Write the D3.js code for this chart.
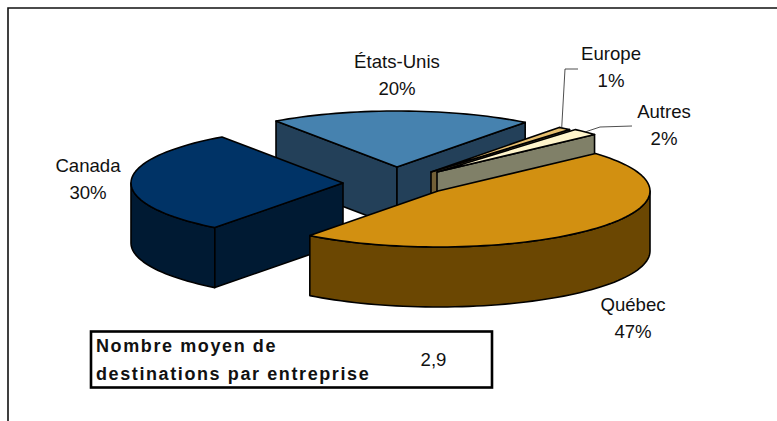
<!DOCTYPE html>
<html><head><meta charset="utf-8">
<script src="https://cdn.jsdelivr.net/npm/d3@7"></script>
<style>html,body{margin:0;background:#fff}svg{display:block}text{font-family:"Liberation Sans",Arial,sans-serif;fill:#111}</style>
</head><body><svg id="c" width="777" height="421"></svg>
<script>
const categories = ["Québec","Canada","États-Unis","Europe","Autres"];
const values = [47,30,20,1,2];
const topColors = ["#D29011","#003366","#4682AF","#E6BE6E","#FFF5CC"];
const sideColors = ["#6B4702","#001A33","#234059","#736037","#808068"];
const apexX = [438,343,397,431,437];
const apexY = [191,183,167,172,172];
const labelX = [633,88,397,611,664];
const labelY = [311,172,68,60,118];
const drawOrder = [2,3,4,1,0];
const noteLines = ["Nombre moyen de","destinations par entreprise"];
const noteValue = "2,9";

const Rx=212, Ry=56, depth=60, rad=Math.PI/180;
const svg=d3.select("#c");
const pie=d3.pie().sort(null).value(d=>d).startAngle(-42*rad).endAngle((360-42)*rad);
const arcs=pie(values);
svg.append("path").attr("d","M8,421V8H777").attr("fill","none").attr("stroke","#111").attr("stroke-width",1.6);

function pt(i,a,dz=0){return [apexX[i]+Rx*Math.cos(a),apexY[i]+Ry*Math.sin(a)+dz];}
function rim(i,a0,a1,dz=0){const n=Math.max(2,Math.ceil((a1-a0)/(2*rad)));return d3.range(n+1).map(k=>pt(i,a0+(a1-a0)*k/n,dz));}
const line=d3.line();
const stroke=(s)=>s.attr("stroke","#000").attr("stroke-width",1.6).attr("stroke-linejoin","round");
drawOrder.forEach(i=>{
  const a0=arcs[i].startAngle,a1=arcs[i].endAngle,c=[apexX[i],apexY[i]],cb=[c[0],c[1]+depth];
  const g=svg.append("g");
  [[a0,a1],[a0-2*Math.PI,a1-2*Math.PI]].forEach(([s,e])=>{
    const lo=Math.max(s,0),hi=Math.min(e,Math.PI);
    if(hi>lo){const poly=rim(i,lo,hi).concat(rim(i,lo,hi,depth).reverse());
      g.append("path").attr("d",line(poly)+"Z").attr("fill",sideColors[i]).call(stroke);}
  });
  if(Math.cos(a0)<0){const p=pt(i,a0),q=pt(i,a0,depth);
    g.append("path").attr("d",line([c,p,q,cb])+"Z").attr("fill",sideColors[i]).call(stroke);}
  if(Math.cos(a1)>0){const p=pt(i,a1),q=pt(i,a1,depth);
    g.append("path").attr("d",line([c,p,q,cb])+"Z").attr("fill",sideColors[i]).call(stroke);}
  g.append("path").attr("d",line([c,...rim(i,a0,a1)])+"Z").attr("fill",topColors[i]).call(stroke);
});
const lead=d3.line();
svg.append("path").attr("d",lead([[578,69],[565,69],[561.7,128]])).attr("fill","none").attr("stroke","#222").attr("stroke-width",.8);
svg.append("path").attr("d",lead([[632,126],[600,127],[585,132]])).attr("fill","none").attr("stroke","#222").attr("stroke-width",.8);
categories.forEach((c,i)=>{
  const t=svg.append("text").attr("text-anchor","middle").attr("font-size",18.6);
  t.append("tspan").attr("x",labelX[i]).attr("y",labelY[i]).text(c);
  t.append("tspan").attr("x",labelX[i]).attr("y",labelY[i]+27).text(values[i]+"%");
});
svg.append("rect").attr("x",91).attr("y",331.5).attr("width",401).attr("height",56).attr("fill","#fff").attr("stroke","#000").attr("stroke-width",2.6);
noteLines.forEach((s,k)=>svg.append("text").attr("x",96).attr("y",352+k*28).attr("font-size",18).attr("font-weight","bold").attr("letter-spacing",1.6).text(s));
svg.append("text").attr("x",433.5).attr("y",366).attr("text-anchor","middle").attr("font-size",18.6).text(noteValue);
</script></body></html>
